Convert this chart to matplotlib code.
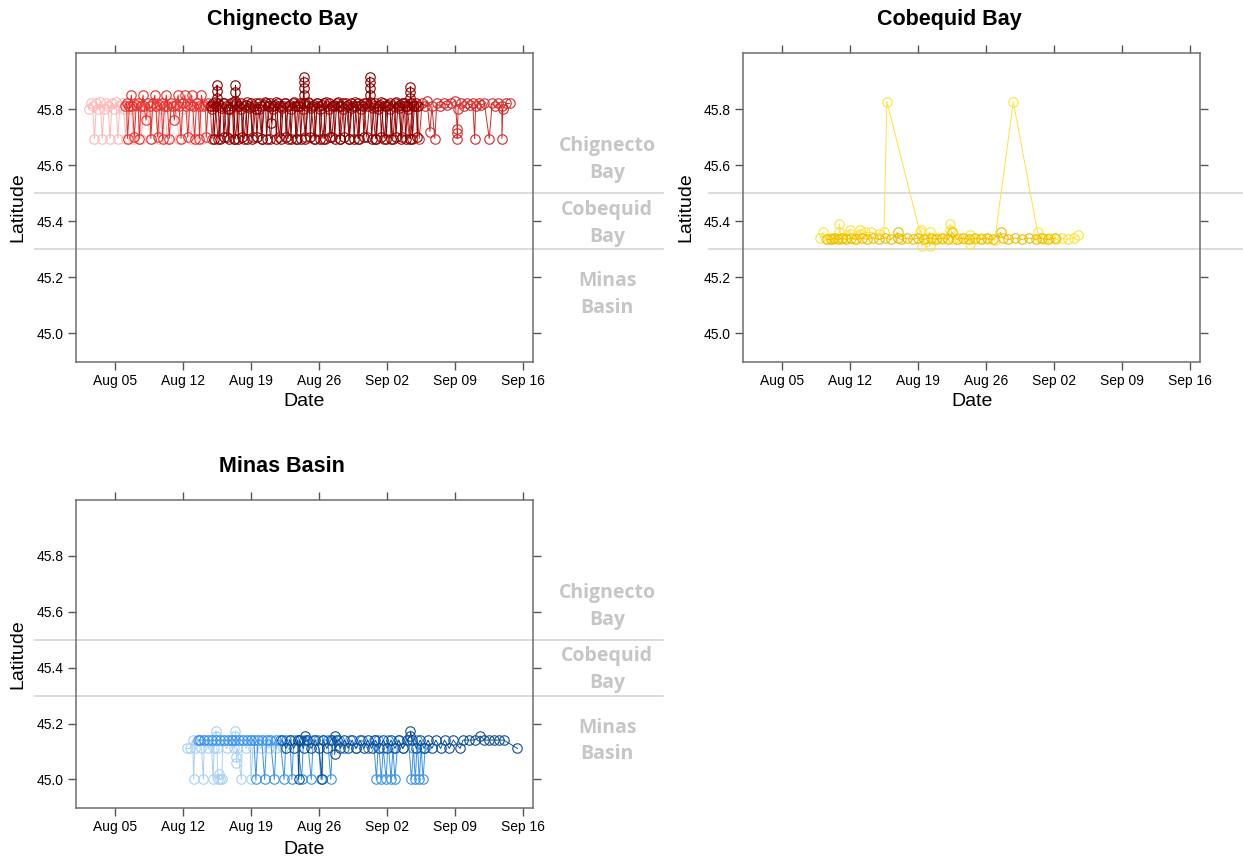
import matplotlib
matplotlib.use('Agg')
import matplotlib.pyplot as plt
from datetime import datetime, timedelta

plt.rcParams['font.family'] = ['Liberation Sans', 'DejaVu Sans']

# Dates are days after Aug 01
start = datetime(2019, 8, 1)

# Chignecto Bay tracks
c1_day = [1.3, 1.5, 1.7, 1.9, 2.1, 2.3, 2.5, 2.7, 2.9, 3.1,
          3.3, 3.5, 3.7, 3.9, 4.1, 4.3, 4.5, 4.7, 4.9, 5.1,
          5.3, 5.5, 5.7, 5.9, 6.1, 6.4, 6.7, 7.0, 7.3, 7.6,
          7.9, 8.2, 8.5, 8.8, 9.1, 9.4, 9.8, 10.2, 10.6, 11.0,
          11.4, 11.8, 12.2, 12.6, 13.0]
c1_lat = [45.80, 45.82, 45.81, 45.695, 45.82, 45.80, 45.825, 45.695, 45.80, 45.82,
          45.81, 45.695, 45.82, 45.80, 45.825, 45.695, 45.81, 45.82, 45.80, 45.695,
          45.82, 45.81, 45.80, 45.695, 45.82, 45.81, 45.695, 45.80, 45.82, 45.695,
          45.81, 45.82, 45.695, 45.80, 45.82, 45.695, 45.81, 45.82, 45.695, 45.80,
          45.82, 45.695, 45.81, 45.82, 45.695]

c2_day = [5.0, 5.2, 5.3, 5.5, 5.7, 5.8, 6.0, 6.2, 6.4, 6.5,
          6.7, 6.9, 7.0, 7.2, 7.4, 7.6, 7.7, 7.9, 8.1, 8.2,
          8.4, 8.6, 8.8, 8.9, 9.1, 9.3, 9.4, 9.6, 9.8, 10.0,
          10.1, 10.3, 10.5, 10.6, 10.8, 11.0, 11.2, 11.3, 11.5, 11.7,
          11.9, 12.0, 12.2, 12.4, 12.6, 12.7, 12.9, 13.1, 13.3, 13.4,
          13.6, 13.8, 14.0, 14.2]
c2_lat = [45.81, 45.82, 45.695, 45.81, 45.85, 45.81, 45.70, 45.815, 45.82, 45.695,
          45.81, 45.85, 45.81, 45.76, 45.82, 45.81, 45.695, 45.82, 45.85, 45.81,
          45.70, 45.815, 45.82, 45.695, 45.81, 45.85, 45.81, 45.695, 45.82, 45.81,
          45.76, 45.815, 45.85, 45.81, 45.695, 45.82, 45.85, 45.81, 45.70, 45.815,
          45.85, 45.81, 45.695, 45.82, 45.81, 45.695, 45.85, 45.81, 45.815, 45.70,
          45.82, 45.81, 45.695, 45.81]

c3_day = [13.9, 14.1, 14.2, 14.4, 14.5, 14.5, 14.5, 14.6, 14.8, 14.9,
          15.1, 15.2, 15.4, 15.6, 15.7, 15.9, 16.1, 16.2, 16.4, 16.4,
          16.4, 16.5, 16.7, 16.8, 17.0, 17.1, 17.3, 17.5, 17.6, 17.8,
          18.0, 18.1, 18.3, 18.5, 18.6, 18.8, 19.0, 19.1, 19.3, 19.5,
          19.6, 19.8, 20.0, 20.1, 20.3, 20.5, 20.6, 20.8, 21.0, 21.1,
          21.3, 21.5, 21.6, 21.8, 22.0, 22.1, 22.3, 22.5, 22.6, 22.8,
          23.0, 23.1, 23.3, 23.4, 23.4, 23.4, 23.4, 23.5, 23.6, 23.8,
          24.0, 24.1, 24.3, 24.5, 24.6, 24.8, 25.0, 25.1, 25.3, 25.5,
          25.6, 25.8, 26.0, 26.1, 26.3, 26.5, 26.6, 26.8, 27.0, 27.1,
          27.3, 27.5, 27.6, 27.8, 28.0, 28.1, 28.3, 28.5, 28.6, 28.8,
          29.0, 29.1, 29.3, 29.5, 29.6, 29.8, 30.0, 30.2, 30.2, 30.2,
          30.2, 30.3, 30.4, 30.6, 30.8, 30.9, 31.1, 31.3, 31.4, 31.6,
          31.8, 31.9, 32.1, 32.3, 32.4, 32.6, 32.8, 32.9, 33.1, 33.3,
          33.4, 33.6, 33.8, 33.9, 34.1, 34.4, 34.4, 34.4, 34.5, 34.6,
          34.8, 35.0, 35.1, 35.2]
c3_lat = [45.81, 45.82, 45.695, 45.81, 45.84, 45.865, 45.885, 45.82, 45.695, 45.81,
          45.82, 45.70, 45.81, 45.80, 45.695, 45.82, 45.81, 45.695, 45.83, 45.86,
          45.885, 45.82, 45.695, 45.81, 45.82, 45.70, 45.81, 45.815, 45.695, 45.81,
          45.82, 45.695, 45.81, 45.80, 45.70, 45.82, 45.81, 45.695, 45.815, 45.82,
          45.695, 45.81, 45.82, 45.75, 45.81, 45.815, 45.695, 45.82, 45.81, 45.695,
          45.81, 45.82, 45.70, 45.81, 45.815, 45.695, 45.82, 45.81, 45.695, 45.81,
          45.82, 45.695, 45.82, 45.85, 45.875, 45.895, 45.915, 45.82, 45.695, 45.81,
          45.82, 45.70, 45.81, 45.815, 45.695, 45.82, 45.81, 45.695, 45.815, 45.82,
          45.695, 45.81, 45.82, 45.70, 45.81, 45.815, 45.695, 45.82, 45.81, 45.695,
          45.81, 45.82, 45.70, 45.81, 45.815, 45.695, 45.82, 45.81, 45.695, 45.81,
          45.82, 45.695, 45.815, 45.81, 45.70, 45.82, 45.81, 45.85, 45.875, 45.895,
          45.915, 45.82, 45.695, 45.81, 45.82, 45.695, 45.81, 45.815, 45.70, 45.82,
          45.81, 45.695, 45.815, 45.82, 45.695, 45.81, 45.82, 45.70, 45.81, 45.815,
          45.695, 45.82, 45.81, 45.695, 45.81, 45.84, 45.86, 45.88, 45.82, 45.695,
          45.81, 45.82, 45.70, 45.81]

c4_day = [33.5, 33.9, 34.3, 34.6, 35.0, 35.3, 35.6, 35.9, 36.1, 36.4,
          36.6, 36.9, 37.1, 37.4, 37.8, 38.2, 38.6, 39.0, 39.2, 39.2,
          39.2, 39.3, 39.6, 39.9, 40.2, 40.5, 40.8, 41.0, 41.1, 41.4,
          41.7, 42.0, 42.5, 42.8, 43.1, 43.4, 43.8, 43.8, 43.9, 44.2,
          44.6]
c4_lat = [45.82, 45.81, 45.695, 45.82, 45.81, 45.695, 45.82, 45.81, 45.83, 45.72,
          45.81, 45.695, 45.82, 45.81, 45.82, 45.815, 45.82, 45.83, 45.73, 45.715,
          45.695, 45.80, 45.82, 45.81, 45.82, 45.815, 45.82, 45.695, 45.81, 45.82,
          45.815, 45.82, 45.695, 45.82, 45.81, 45.82, 45.81, 45.695, 45.80, 45.82,
          45.82]

c5_day = [14.0, 14.3, 14.6, 14.9, 15.2, 15.5, 15.8, 16.1, 16.4, 16.7,
          17.0, 17.3, 17.6, 17.9, 18.2, 18.5, 18.8, 19.1, 19.4, 19.7,
          20.0, 20.3, 20.6, 20.9, 21.2, 21.5, 21.8, 22.1, 22.4, 22.7,
          23.0, 23.3, 23.6, 23.9, 24.2, 24.5, 24.8, 25.1, 25.4, 25.7,
          26.0, 26.3, 26.6, 26.9, 27.2, 27.5, 27.8, 28.1, 28.4, 28.7,
          29.0, 29.3, 29.6, 29.9, 30.2, 30.5, 30.8, 31.1, 31.4, 31.7,
          32.0, 32.3, 32.6, 32.9, 33.2, 33.5, 33.8, 34.1, 34.4, 34.7]
c5_lat = [45.80, 45.825, 45.695, 45.805, 45.82, 45.70, 45.80, 45.825, 45.695, 45.81,
          45.80, 45.695, 45.825, 45.805, 45.70, 45.82, 45.80, 45.695, 45.825, 45.81,
          45.695, 45.80, 45.825, 45.70, 45.805, 45.82, 45.695, 45.80, 45.825, 45.695,
          45.81, 45.80, 45.70, 45.825, 45.805, 45.695, 45.82, 45.80, 45.695, 45.825,
          45.80, 45.70, 45.81, 45.825, 45.695, 45.80, 45.82, 45.695, 45.805, 45.825,
          45.695, 45.80, 45.82, 45.70, 45.825, 45.805, 45.695, 45.80, 45.825, 45.695,
          45.81, 45.80, 45.695, 45.825, 45.805, 45.70, 45.82, 45.80, 45.695, 45.81]

# Cobequid Bay tracks
y1_day = [7.9, 8.2, 8.5, 8.9, 9.3, 9.7, 9.9, 9.9, 10.1, 10.5,
          11.0, 11.0, 11.4, 12.0, 12.0, 12.5, 13.2, 14.0, 14.5, 14.8,
          18.2, 18.3, 18.4, 18.6, 19.0, 19.2, 19.2, 19.5, 20.0, 20.5,
          21.0, 21.3, 21.3, 21.6, 22.2, 22.8, 23.3, 23.3, 23.8, 24.5,
          25.2, 25.9, 27.8, 30.3, 30.5, 31.0, 31.6, 32.2, 32.8, 33.4,
          34.0, 34.5]
y1_lat = [45.34, 45.36, 45.335, 45.34, 45.335, 45.34, 45.36, 45.39, 45.335, 45.34,
          45.37, 45.355, 45.335, 45.37, 45.355, 45.36, 45.36, 45.355, 45.36, 45.826,
          45.36, 45.37, 45.31, 45.335, 45.34, 45.36, 45.31, 45.335, 45.34, 45.335,
          45.34, 45.37, 45.39, 45.335, 45.34, 45.335, 45.35, 45.32, 45.335, 45.34,
          45.335, 45.334, 45.826, 45.36, 45.34, 45.335, 45.34, 45.335, 45.34, 45.335,
          45.34, 45.35]

y2_day = [8.6, 9.0, 9.4, 9.8, 10.2, 10.6, 11.1, 11.6, 12.2, 12.8,
          13.4, 14.0, 14.6, 15.2, 15.9, 15.9, 16.3, 16.9, 17.5, 18.0,
          18.6, 19.3, 19.9, 20.5, 21.1, 21.5, 22.0, 22.6, 23.2, 23.9,
          24.5, 25.1, 25.7, 26.5, 26.7, 27.3, 28.0, 28.7, 29.4, 30.1,
          30.7, 31.4, 32.1]
y2_lat = [45.335, 45.335, 45.34, 45.335, 45.34, 45.335, 45.34, 45.335, 45.34, 45.335,
          45.34, 45.335, 45.34, 45.335, 45.36, 45.34, 45.335, 45.34, 45.335, 45.34,
          45.335, 45.34, 45.335, 45.34, 45.335, 45.36, 45.335, 45.34, 45.335, 45.34,
          45.335, 45.34, 45.335, 45.36, 45.34, 45.335, 45.34, 45.335, 45.34, 45.335,
          45.34, 45.335, 45.34]

# Minas Basin tracks
b1_day = [11.4, 11.7, 12.0, 12.1, 12.2, 12.6, 12.9, 13.1, 13.2, 13.6,
          13.9, 14.1, 14.2, 14.4, 14.4, 14.4, 14.5, 14.6, 14.7, 14.8,
          15.0, 15.1, 15.5, 15.9, 16.3, 16.4, 16.4, 16.5, 16.5, 16.6,
          17.0, 17.1, 17.5, 17.9, 18.0, 18.2, 18.6, 19.0, 19.4, 19.8,
          20.2, 20.6, 21.0, 21.3]
b1_lat = [45.111, 45.111, 45.141, 45.0, 45.111, 45.141, 45.111, 45.0, 45.141, 45.111,
          45.141, 45.0, 45.111, 45.141, 45.155, 45.173, 45.111, 45.0, 45.02, 45.0,
          45.0, 45.141, 45.111, 45.141, 45.111, 45.155, 45.173, 45.08, 45.06, 45.111,
          45.0, 45.141, 45.111, 45.141, 45.0, 45.111, 45.141, 45.111, 45.141, 45.111,
          45.141, 45.111, 45.141, 45.111]

b2_day = [12.5, 12.8, 13.2, 13.6, 14.0, 14.4, 14.8, 15.2, 15.6, 16.0,
          16.4, 16.8, 17.2, 17.6, 18.0, 18.3, 18.5, 18.7, 19.1, 19.4,
          19.6, 20.0, 20.4, 20.6, 21.0, 21.4, 21.6, 22.0, 22.2, 22.4,
          22.8, 23.2, 23.4, 23.8, 24.2, 24.4, 24.9, 25.2, 25.4, 25.9,
          26.2, 26.4, 27.0, 27.6, 28.2, 28.8, 29.4, 30.0, 30.6, 30.9,
          31.1, 31.4, 31.6, 31.9, 32.1, 32.4, 32.6, 32.8, 33.1, 33.6,
          34.2, 34.5, 34.7, 34.9, 35.1, 35.3, 35.5, 35.7, 35.9]
b2_lat = [45.141, 45.141, 45.141, 45.141, 45.141, 45.141, 45.141, 45.141, 45.141, 45.141,
          45.141, 45.141, 45.141, 45.141, 45.141, 45.141, 45.0, 45.141, 45.141, 45.0,
          45.141, 45.141, 45.0, 45.141, 45.141, 45.0, 45.141, 45.141, 45.0, 45.141,
          45.141, 45.0, 45.141, 45.141, 45.0, 45.141, 45.141, 45.0, 45.141, 45.141,
          45.0, 45.141, 45.141, 45.111, 45.141, 45.111, 45.141, 45.111, 45.141, 45.0,
          45.141, 45.0, 45.111, 45.0, 45.141, 45.0, 45.111, 45.0, 45.141, 45.111,
          45.141, 45.0, 45.111, 45.0, 45.141, 45.0, 45.111, 45.0, 45.111]

b3_day = [21.2, 21.6, 22.0, 22.4, 22.8, 22.9, 23.0, 23.4, 23.6, 23.8,
          24.2, 24.6, 25.0, 25.3, 25.4, 25.8, 26.2, 26.6, 26.6, 26.8,
          27.2, 27.6, 28.0, 28.4, 28.8, 29.2, 29.6, 30.0, 30.4, 30.8,
          31.2, 31.6, 32.0, 32.4, 32.8, 33.2, 33.6, 34.0, 34.4, 34.4,
          34.6, 35.0, 35.4, 35.8, 36.2, 36.6, 37.0, 37.5, 37.9, 38.4,
          38.8, 39.5, 39.8, 40.4, 41.0, 41.6, 42.0, 42.5, 43.0, 43.5,
          44.0, 45.4]
b3_lat = [45.141, 45.111, 45.141, 45.111, 45.141, 45.0, 45.141, 45.111, 45.155, 45.141,
          45.111, 45.141, 45.111, 45.0, 45.141, 45.111, 45.141, 45.155, 45.09, 45.141,
          45.111, 45.141, 45.111, 45.141, 45.111, 45.141, 45.111, 45.141, 45.111, 45.141,
          45.111, 45.141, 45.111, 45.141, 45.111, 45.141, 45.111, 45.141, 45.155, 45.173,
          45.141, 45.111, 45.141, 45.111, 45.141, 45.111, 45.141, 45.111, 45.141, 45.111,
          45.141, 45.111, 45.141, 45.141, 45.141, 45.155, 45.141, 45.141, 45.141, 45.141,
          45.141, 45.111]

tick_days = [4, 11, 18, 25, 32, 39, 46]
tick_labels = ['Aug 05', 'Aug 12', 'Aug 19', 'Aug 26', 'Sep 02', 'Sep 09', 'Sep 16']
lat_ticks = [45.0, 45.2, 45.4, 45.6, 45.8]
bounds = [45.5, 45.3]
regions = ['Chignecto\nBay', 'Cobequid\nBay', 'Minas\nBasin']
region_y = [45.62, 45.393, 45.138]


def to_dates(days):
    return [start + timedelta(days=d) for d in days]


def setup(ax, line_x, show_regions):
    ax.set_xlim(start, start + timedelta(days=47))
    ax.set_ylim(44.898, 46.0)
    ax.set_xticks(to_dates(tick_days))
    ax.set_xticklabels(tick_labels)
    ax.set_yticks(lat_ticks)
    ax.set_yticklabels(['%.1f' % v for v in lat_ticks])
    ax.tick_params(direction='out', length=6, width=1, color='#555555',
                   top=True, right=True, labelsize=10, pad=3)
    for s in ax.spines.values():
        s.set_color('#6e6e6e')
        s.set_linewidth(1.1)
    trans = ax.get_yaxis_transform()
    for b in bounds:
        ax.plot(line_x, [b, b], transform=trans, clip_on=False,
                color='#d9d9d9', lw=1.3, zorder=0)
    if show_regions:
        for name, y in zip(regions, region_y):
            ax.text(1.162, y, name, transform=trans, ha='center', va='center',
                    fontsize=14, fontweight='bold', color='#c6c6c6',
                    family=['Open Sans', 'DejaVu Sans'], linespacing=1.45)


def track(ax, days, lats, color):
    ax.plot(to_dates(days), lats, '-o', color=color, mfc='none', mec=color,
            ms=6.8, mew=0.8, lw=0.7)


fig = plt.figure(figsize=(12.43, 8.6), dpi=100)
W, H = 1243.0, 860.0

ax1 = fig.add_axes([76 / W, 1 - 362 / H, 457 / W, 309 / H])
ax2 = fig.add_axes([743 / W, 1 - 362 / H, 457 / W, 309 / H])
ax3 = fig.add_axes([76 / W, 1 - 808 / H, 457 / W, 308 / H])

setup(ax1, [-0.09, 1.285], True)
setup(ax2, [-0.075, 1.1], False)
setup(ax3, [-0.09, 1.285], True)

track(ax1, c1_day, c1_lat, '#ffb8b8')
track(ax1, c2_day, c2_lat, '#e3312e')
track(ax1, c4_day, c4_lat, '#d42a2a')
track(ax1, c5_day, c5_lat, '#b00e0e')
track(ax1, c3_day, c3_lat, '#8b0000')

track(ax2, y1_day, y1_lat, '#ffe23d')
track(ax2, y2_day, y2_lat, '#ecbd00')

track(ax3, b1_day, b1_lat, '#a9d1f7')
track(ax3, b2_day, b2_lat, '#3a92ea')
track(ax3, b3_day, b3_lat, '#0d4f96')

# titles and axis labels
fig.text(282 / W, 1 - 19 / H, 'Chignecto Bay', ha='center', va='center',
         fontsize=15.5, fontweight='bold')
fig.text(949 / W, 1 - 19 / H, 'Cobequid Bay', ha='center', va='center',
         fontsize=15.5, fontweight='bold')
fig.text(282 / W, 1 - 466 / H, 'Minas Basin', ha='center', va='center',
         fontsize=15.5, fontweight='bold')

for x, y in [(18, 207), (686, 207), (18, 654)]:
    fig.text(x / W, 1 - y / H, 'Latitude', rotation=90, ha='center', va='center',
             fontsize=14)
for x, y in [(304, 402), (972, 402), (304, 850)]:
    fig.text(x / W, 1 - y / H, 'Date', ha='center', va='center', fontsize=14)

fig.savefig('out.png', dpi=100)
